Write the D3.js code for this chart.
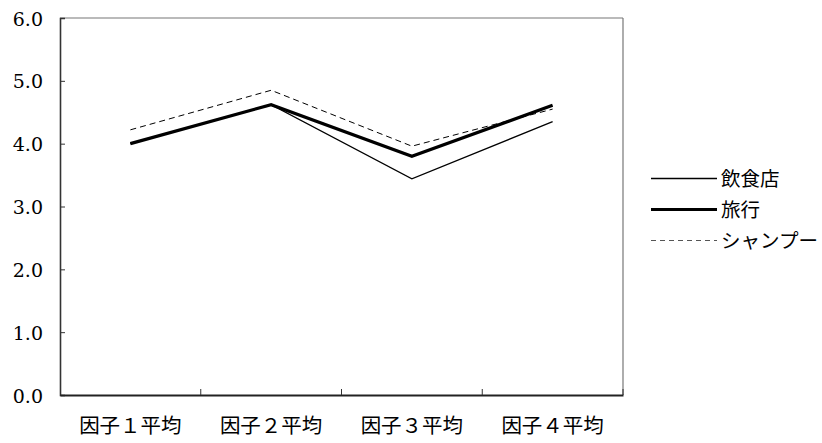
<!DOCTYPE html>
<html><head><meta charset="utf-8">
<script src="https://cdn.jsdelivr.net/npm/d3@7"></script>
<style>body{margin:0;background:#fff;}</style>
</head><body>
<svg id="c" width="822" height="443"></svg>
<script>
const categories = ["因子１平均","因子２平均","因子３平均","因子４平均"];
const seriesNames = ["飲食店","旅行","シャンプー"];
const inshokuten = [4.00, 4.62, 3.44, 4.35];
const ryokou = [4.00, 4.62, 3.80, 4.61];
const shampoo = [4.22, 4.85, 3.96, 4.55];
const yTicks = [0,1,2,3,4,5,6];

const svg = d3.select("#c");
const L=60, R=623, T=18, B=395;
const x = d3.scaleBand().domain(categories).range([L,R]);
const y = d3.scaleLinear().domain([0,6]).range([B,T]);

// frame top/right
svg.append("line").attr("x1",L).attr("x2",R).attr("y1",T).attr("y2",T).attr("stroke","#777").attr("stroke-width",1.2);
svg.append("line").attr("x1",R).attr("x2",R).attr("y1",T).attr("y2",B).attr("stroke","#777").attr("stroke-width",1.2);

const ya = svg.append("g").attr("transform",`translate(${L},0)`)
  .call(d3.axisRight(y).tickValues(yTicks).tickSize(5).tickFormat(d3.format(".1f")));
ya.attr("font-family",null).attr("font-size",null);
ya.select(".domain").attr("stroke","#333").attr("stroke-width",1.6);
ya.selectAll(".tick line").attr("stroke","#333");
ya.selectAll(".tick text").attr("x",-17).attr("dy",null).attr("y",7).attr("text-anchor","end")
  .attr("font-family","DejaVu Serif").attr("font-size",19).attr("fill","#000");

const xa = svg.append("g").attr("transform",`translate(0,${B})`)
  .call(d3.axisTop(x).tickSize(0).tickFormat(""));
xa.select(".domain").attr("stroke","#222").attr("stroke-width",1.8);
// category boundary ticks
svg.append("g").selectAll("line").data(categories.slice(1)).join("line")
  .attr("x1",d=>x(d)).attr("x2",d=>x(d)).attr("y1",B).attr("y2",B-6).attr("stroke","#333");
svg.append("line").attr("x1",R).attr("x2",R).attr("y1",B).attr("y2",B-6).attr("stroke","#333");
svg.append("g").selectAll("text").data(categories).join("text")
  .attr("x",d=>x(d)+x.bandwidth()/2).attr("y",B+38).attr("text-anchor","middle")
  .attr("font-family","Noto Sans CJK JP").attr("font-size",20.5).text(d=>d);

const styles = [
  {name:seriesNames[0], data:inshokuten, w:1.3, dash:null},
  {name:seriesNames[1], data:ryokou, w:3.2, dash:null},
  {name:seriesNames[2], data:shampoo, w:1, dash:"6,4"}
];
const line = d3.line().x((d,i)=>x(categories[i])+x.bandwidth()/2).y(d=>y(d));
[styles[2],styles[0],styles[1]].forEach(s=>{
  svg.append("path").attr("d",line(s.data)).attr("fill","none").attr("stroke","#000")
    .attr("stroke-width",s.w).attr("stroke-dasharray",s.dash).attr("stroke-linejoin","miter");
});

const lg = svg.append("g");
styles.forEach((s,i)=>{
  const yy = 178.5 + i*31;
  lg.append("line").attr("x1",651).attr("x2",717).attr("y1",yy).attr("y2",yy)
    .attr("stroke", s.dash? "#555":"#000").attr("stroke-width",s.w).attr("stroke-dasharray",s.dash?"5,4":null);
  lg.append("text").attr("x",721).attr("y",yy+7).attr("font-family","Noto Sans CJK JP")
    .attr("font-size",19.5).text(s.name);
});
</script>
</body></html>
